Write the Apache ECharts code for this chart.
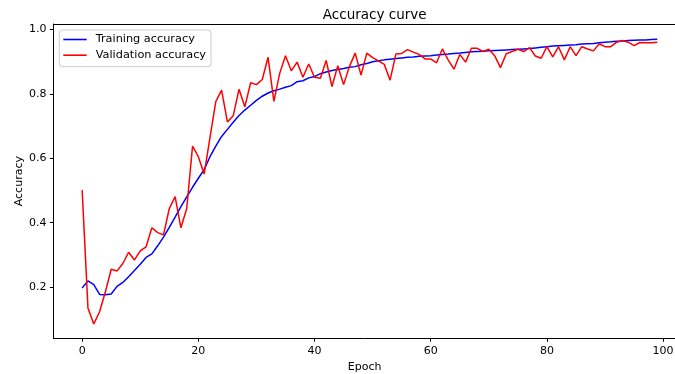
<!DOCTYPE html>
<html>
<head>
<meta charset="utf-8">
<script src="https://cdn.jsdelivr.net/npm/echarts@6/dist/echarts.min.js"></script>
<style>
  html, body { margin: 0; padding: 0; background: #fff; }
  #chart { width: 675px; height: 374px; }
</style>
</head>
<body>
<div id="chart"></div>
<script>
// Per-epoch accuracy, epochs 0..99
const trainAcc = [
  0.197, 0.219, 0.207, 0.177, 0.176, 0.178, 0.202, 0.214, 0.232, 0.251,
  0.271, 0.292, 0.303, 0.328, 0.355, 0.385, 0.417, 0.450, 0.480, 0.510,
  0.538, 0.565, 0.605, 0.638, 0.668, 0.690, 0.712, 0.733, 0.750, 0.765,
  0.780, 0.793, 0.803, 0.810, 0.815, 0.821, 0.826, 0.838, 0.841, 0.850,
  0.854, 0.863, 0.868, 0.873, 0.876, 0.879, 0.883, 0.885, 0.891, 0.895,
  0.900, 0.903, 0.906, 0.908, 0.910, 0.912, 0.914, 0.915, 0.917, 0.918,
  0.919, 0.921, 0.923, 0.924, 0.926, 0.927, 0.929, 0.931, 0.932, 0.933,
  0.934, 0.935, 0.936, 0.937, 0.938, 0.939, 0.940, 0.941, 0.943, 0.945,
  0.947, 0.949, 0.950, 0.951, 0.952, 0.953, 0.955, 0.956, 0.957, 0.959,
  0.961, 0.962, 0.964, 0.965, 0.966, 0.967, 0.968, 0.968, 0.969, 0.970
];
const valAcc = [
  0.501, 0.135, 0.085, 0.123, 0.185, 0.255, 0.250, 0.273, 0.308, 0.284,
  0.312, 0.325, 0.384, 0.369, 0.362, 0.444, 0.481, 0.384, 0.444, 0.638,
  0.605, 0.551, 0.664, 0.776, 0.812, 0.713, 0.732, 0.815, 0.760, 0.835,
  0.829, 0.845, 0.914, 0.777, 0.864, 0.919, 0.872, 0.899, 0.852, 0.893,
  0.852, 0.849, 0.904, 0.823, 0.888, 0.829, 0.885, 0.927, 0.859, 0.927,
  0.913, 0.903, 0.892, 0.843, 0.924, 0.926, 0.938, 0.930, 0.923, 0.909,
  0.909, 0.897, 0.940, 0.906, 0.877, 0.923, 0.899, 0.942, 0.942, 0.932,
  0.939, 0.919, 0.882, 0.925, 0.932, 0.939, 0.932, 0.944, 0.918, 0.911,
  0.947, 0.915, 0.947, 0.906, 0.947, 0.919, 0.947, 0.940, 0.934, 0.956,
  0.947, 0.947, 0.961, 0.966, 0.961, 0.950, 0.960, 0.959, 0.959, 0.961
];
const xTicks = [0, 20, 40, 60, 80, 100];
const yTicks = [0.2, 0.4, 0.6, 0.8, 1.0];
const seriesNames = ['Training accuracy', 'Validation accuracy'];

const epochs = trainAcc.map((_, i) => i);
const pairs = arr => epochs.map((e, i) => [e, arr[i]]);

// Plot box: the right edge runs to the canvas edge, so no right spine is drawn
const PLOT_LEFT = 53.4, PLOT_TOP = 24, PLOT_W = 622.5, PLOT_H = 314.3;
const X_MIN = -4.95, X_MAX = 102.2;
const Y_MIN = 0.0405, Y_MAX = 1.0175;

const FONT = 'DejaVu Sans';
const chart = echarts.init(document.getElementById('chart'), null, { renderer: 'canvas' });

const spine = { show: true, onZero: false, lineStyle: { color: '#000', width: 1 } };

chart.setOption({
  animation: false,
  backgroundColor: '#ffffff',
  textStyle: { fontFamily: FONT, color: '#000' },
  title: {
    text: 'Accuracy curve',
    left: 369.7,
    top: 3,
    textAlign: 'center',
    textStyle: { fontFamily: FONT, fontSize: 13.5, fontWeight: 'normal', color: '#000' }
  },
  legend: {
    orient: 'vertical',
    left: 59.3,
    top: 30,
    padding: [3, 5, 5, 4],
    itemGap: 2.7,
    itemWidth: 23.4,
    itemHeight: 1.6,
    icon: 'rect',
    backgroundColor: 'rgba(255,255,255,0.8)',
    borderColor: '#cccccc',
    borderWidth: 1,
    borderRadius: 3,
    textStyle: { fontFamily: FONT, fontSize: 11.3, color: '#000', lineHeight: 13, padding: [0, 0, 0, 4] },
    data: seriesNames
  },
  grid: {
    left: PLOT_LEFT,
    top: PLOT_TOP,
    width: PLOT_W,
    height: PLOT_H,
    show: false,
    outerBoundsMode: 'none',
    containLabel: false
  },
  xAxis: [
    {
      type: 'value',
      position: 'bottom',
      min: X_MIN,
      max: X_MAX,
      name: 'Epoch',
      nameLocation: 'middle',
      nameGap: 22,
      nameTextStyle: { fontFamily: FONT, fontSize: 11, color: '#000' },
      axisLine: spine,
      axisTick: { show: true, inside: false, length: 3.5, lineStyle: { color: '#000', width: 1 }, customValues: xTicks },
      axisLabel: { margin: 7, fontFamily: FONT, fontSize: 11, color: '#000', customValues: xTicks, formatter: v => String(v) },
      splitLine: { show: false }
    },
    {
      // top spine only
      type: 'value',
      position: 'top',
      min: X_MIN,
      max: X_MAX,
      axisLine: spine,
      axisTick: { show: false },
      axisLabel: { show: false },
      splitLine: { show: false }
    }
  ],
  yAxis: {
    type: 'value',
    min: Y_MIN,
    max: Y_MAX,
    name: 'Accuracy',
    nameLocation: 'middle',
    nameGap: 29,
    nameRotate: 90,
    nameMoveOverlap: false,
    nameTextStyle: { fontFamily: FONT, fontSize: 11, color: '#000' },
    axisLine: spine,
    axisTick: { show: true, inside: false, length: 3.5, lineStyle: { color: '#000', width: 1 }, customValues: yTicks },
    axisLabel: { margin: 7, fontFamily: FONT, fontSize: 11, color: '#000', customValues: yTicks, formatter: v => v.toFixed(1) },
    splitLine: { show: false }
  },
  series: [
    {
      name: seriesNames[0],
      type: 'line',
      xAxisIndex: 0,
      data: pairs(trainAcc),
      symbol: 'none',
      color: '#0000ff',
      lineStyle: { color: '#0000ff', width: 1.5 },
      z: 2
    },
    {
      name: seriesNames[1],
      type: 'line',
      xAxisIndex: 0,
      data: pairs(valAcc),
      symbol: 'none',
      color: '#ff0000',
      lineStyle: { color: '#ff0000', width: 1.5 },
      z: 3
    }
  ]
});
</script>
</body>
</html>
